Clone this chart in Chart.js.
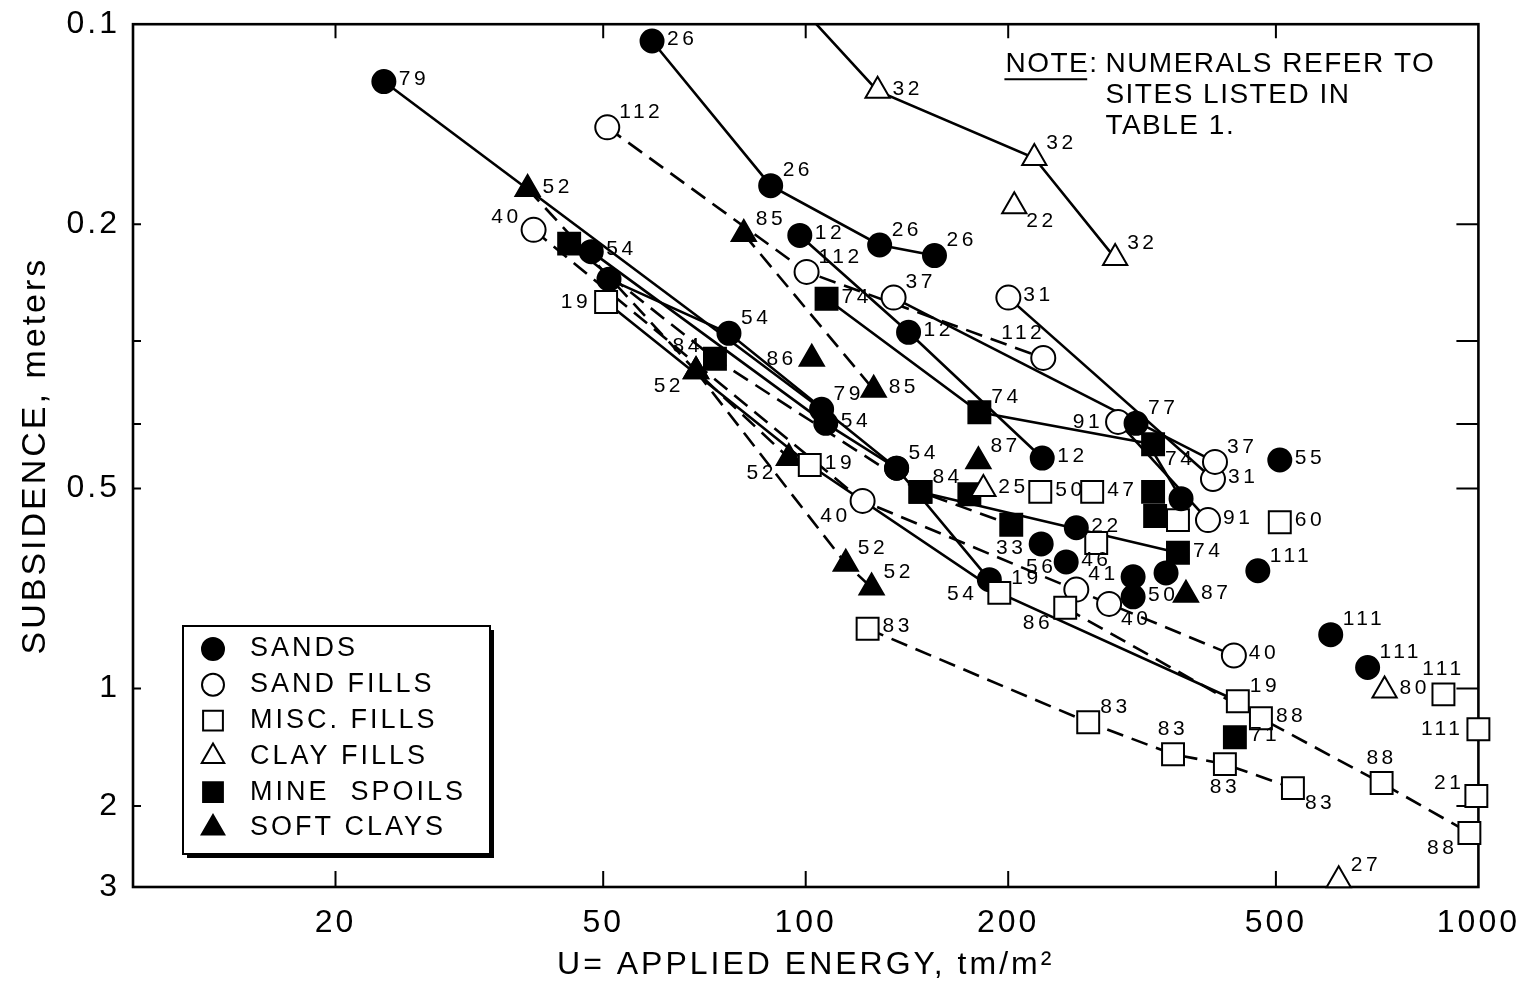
<!DOCTYPE html>
<html lang="en">

<head>
    <title>Subsidence vs Applied Energy</title>
    <script src="https://cdn.jsdelivr.net/npm/chart.js"></script>
    <style>
        body {
            margin: 0;
            background: #fff;
        }

        #chart {
            display: block;
        }
    </style>
</head>

<body>
    <canvas id="chart" width="1529" height="990"></canvas>
    <script>
        // axis ticks
        const energyTicks = [20, 50, 100, 200, 500, 1000];
        const subsTicks = [0.1, 0.2, 0.3, 0.4, 0.5, 1, 2, 3];
        const subsTickLabels = ['0.1', '0.2', '', '', '0.5', '1', '2', '3'];

        // connected tests: [applied energy tm/m2, subsidence m], site number at each point
        const site79 = [[23.6, 0.122], [105.6, 0.380]];
        const site79Sites = ['79', '79'];
        const site26 = [[59.1, 0.106], [88.7, 0.175], [128.8, 0.215], [155.4, 0.223]];
        const site26Sites = ['26', '26', '26', '26'];
        const site32 = [[99, 0.095], [127.9, 0.126], [218.7, 0.159], [288.4, 0.225]];
        const site32Sites = ['', '32', '32', '32'];
        const site112 = [[50.7, 0.143], [100.3, 0.236], [225.5, 0.318]];
        const site112Sites = ['112', '112', '112'];
        const site12 = [[98, 0.208], [142.2, 0.291], [224.7, 0.45]];
        const site12Sites = ['12', '12', '12'];
        const site85 = [[80.9, 0.207], [126.2, 0.355]];
        const site85Sites = ['85', '85'];
        const site74 = [[107.4, 0.259], [181.2, 0.384], [328.4, 0.429]];
        const site74Sites = ['74', '74', '74'];
        const site84 = [[44.5, 0.214], [73.3, 0.319], [148.1, 0.506], [202.1, 0.567]];
        const site84Sites = ['', '84', '84', '33'];
        const site74b = [[148.1, 0.506], [357.6, 0.625]];
        const site74bSites = ['', '74'];
        const site37 = [[135.1, 0.258], [405.9, 0.456]];
        const site37Sites = ['37', '37'];
        const site31 = [[200.1, 0.258], [403.1, 0.484]];
        const site31Sites = ['31', '31'];
        const site77 = [[309.8, 0.399], [361.4, 0.518]];
        const site77Sites = ['77', ''];
        const site91 = [[291.3, 0.397], [396.3, 0.558]];
        const site91Sites = ['91', '91'];
        const site40 = [[39.4, 0.204], [121.5, 0.522], [282.5, 0.746], [433, 0.892]];
        const site40Sites = ['40', '40', '40', '40'];
        const site19 = [[50.5, 0.262], [101.4, 0.461], [194, 0.718], [438.9, 1.079]];
        const site19Sites = ['19', '19', '19', '19'];
        const site88 = [[243.1, 0.756], [475, 1.193], [718, 1.747], [969.6, 2.289]];
        const site88Sites = ['86', '88', '88', '88'];
        const site83 = [[123.6, 0.813], [263, 1.221], [351.6, 1.474], [419.9, 1.563], [530, 1.8]];
        const site83Sites = ['83', '83', '83', '83', '83'];
        const site52 = [[38.6, 0.177], [68.7, 0.333], [94.4, 0.45]];
        const site52Sites = ['52', '52', '52'];
        const site52b = [[68.7, 0.333], [114.7, 0.649], [125.3, 0.705]];
        const site52bSites = ['', '52', '52'];
        const site54 = [[48, 0.22], [107.1, 0.399], [136.5, 0.466], [187.5, 0.686]];
        const site54Sites = ['54', '54', '54', '54'];
        const site54b = [[51, 0.242], [76.9, 0.292], [136.5, 0.466]];
        const site54bSites = ['', '54', ''];

        // single tests, by material
        const sandsOther = [[506.7, 0.453], [252.5, 0.573], [223.9, 0.606], [243.9, 0.645], [306.7, 0.679],
            [306.7, 0.728], [343.3, 0.67], [470, 0.665], [603.2, 0.83], [684.4, 0.93]];
        const sandsOtherSites = ['55', '22', '56', '46', '', '50', '', '111', '111', '111'];
        const sandFillsOther = [[252.5, 0.71]];
        const sandFillsOtherSites = ['41'];
        const miscFillsOther = [[223.2, 0.506], [266.6, 0.506], [357.6, 0.558], [506.7, 0.562], [270.3, 0.604],
            [887.2, 1.036], [1000, 1.272], [993, 1.886]];
        const miscFillsOtherSites = ['50', '47', '', '60', '', '111', '111', '21'];
        const clayFillsOther = [[204.2, 0.188], [183.7, 0.501], [725.3, 1.012], [619.9, 2.9]];
        const clayFillsOtherSites = ['22', '25', '80', '27'];
        const mineSpoilsOther = [[175.1, 0.51], [328.4, 0.506], [330.7, 0.55], [434.5, 1.334]];
        const mineSpoilsOtherSites = ['', '', '', '71'];
        const softClaysOther = [[102.1, 0.319], [180.6, 0.455], [367.5, 0.723]];
        const softClaysOtherSites = ['86', '87', '87'];

        const legendNames = ['SANDS', 'SAND FILLS', 'MISC. FILLS', 'CLAY FILLS', 'MINE  SPOILS', 'SOFT CLAYS'];
        const legendKinds = ['sands', 'sandFills', 'miscFills', 'clayFills', 'mineSpoils', 'softClays'];

        const markerStyle = {
            sands: { pointStyle: 'circle', radius: 11.5, fill: '#000' },
            sandFills: { pointStyle: 'circle', radius: 12, fill: '#fff' },
            miscFills: { pointStyle: 'rect', radius: 15.5, fill: '#fff' },
            clayFills: { pointStyle: 'triangle', radius: 14, fill: '#fff' },
            mineSpoils: { pointStyle: 'rect', radius: 15.5, fill: '#000' },
            softClays: { pointStyle: 'triangle', radius: 14, fill: '#000' }
        };

        // label side: [textAlign, dx, dy]
        const labelOffsets = {
            r: ['left', 15, -2], ru: ['left', 12, -15], rd: ['left', 12, 15],
            l: ['right', -15, 0], lu: ['right', -12, -13], ld: ['right', -12, 15],
            u: ['center', 0, -25], d: ['center', 0, 23], ul: ['right', 2, -25]
        };

        const series = [
            { pts: site79, sites: site79Sites, kind: 'sands', dashed: false, pos: ['r', 'ru'] },
            { pts: site26, sites: site26Sites, kind: 'sands', dashed: false, pos: ['r', 'ru', 'ru', 'ru'] },
            { pts: site32, sites: site32Sites, kind: 'clayFills', dashed: false, pos: ['r', 'r', 'ru', 'ru'], clip: 0 },
            { pts: site112, sites: site112Sites, kind: 'sandFills', dashed: true, pos: ['ru', 'ru', 'ul'] },
            { pts: site12, sites: site12Sites, kind: 'sands', dashed: false, pos: ['r', 'r', 'r'] },
            { pts: site85, sites: site85Sites, kind: 'softClays', dashed: true, pos: ['ru', 'r'] },
            { pts: site74, sites: site74Sites, kind: 'mineSpoils', dashed: false, pos: ['r', 'ru', 'rd'] },
            { pts: site84, sites: site84Sites, kind: 'mineSpoils', dashed: true, pos: ['r', 'lu', 'ru', 'd'] },
            { pts: site74b, sites: site74bSites, kind: 'mineSpoils', dashed: false, pos: ['r', 'r'] },
            { pts: site37, sites: site37Sites, kind: 'sandFills', dashed: false, pos: ['ru', 'ru'] },
            { pts: site31, sites: site31Sites, kind: 'sandFills', dashed: false, pos: ['r', 'r'] },
            { pts: site77, sites: site77Sites, kind: 'sands', dashed: false, pos: ['ru', 'r'] },
            { pts: site91, sites: site91Sites, kind: 'sandFills', dashed: false, pos: ['l', 'r'] },
            { pts: site40, sites: site40Sites, kind: 'sandFills', dashed: true, pos: ['lu', 'ld', 'rd', 'r'] },
            { pts: site19, sites: site19Sites, kind: 'miscFills', dashed: false, pos: ['l', 'r', 'ru', 'ru'] },
            { pts: site88, sites: site88Sites, kind: 'miscFills', dashed: true, pos: ['ld', 'r', 'u', 'ld'] },
            { pts: site83, sites: site83Sites, kind: 'miscFills', dashed: true, pos: ['r', 'ru', 'u', 'd', 'rd'] },
            { pts: site52, sites: site52Sites, kind: 'softClays', dashed: true, pos: ['r', 'ld', 'ld'] },
            { pts: site52b, sites: site52bSites, kind: 'softClays', dashed: true, pos: ['r', 'ru', 'ru'] },
            { pts: site54, sites: site54Sites, kind: 'sands', dashed: false, pos: ['r', 'r', 'ru', 'ld'] },
            { pts: site54b, sites: site54bSites, kind: 'sands', dashed: false, pos: ['r', 'ru', 'r'] }
        ];

        const singles = [
            { pts: sandsOther, sites: sandsOtherSites, kind: 'sands', pos: ['r', 'r', 'd', 'r', 'r', 'r', 'r', 'ru', 'ru', 'ru'] },
            { pts: sandFillsOther, sites: sandFillsOtherSites, kind: 'sandFills', pos: ['ru'] },
            { pts: miscFillsOther, sites: miscFillsOtherSites, kind: 'miscFills', pos: ['r', 'r', 'r', 'r', 'r', 'u', 'l', 'lu'] },
            { pts: clayFillsOther, sites: clayFillsOtherSites, kind: 'clayFills', pos: ['rd', 'r', 'r', 'ru'] },
            { pts: mineSpoilsOther, sites: mineSpoilsOtherSites, kind: 'mineSpoils', pos: ['r', 'r', 'r', 'r'] },
            { pts: softClaysOther, sites: softClaysOtherSites, kind: 'softClays', pos: ['l', 'ru', 'r'] }
        ];

        // subsidence axis: log from 0.1 to 1 m, drawn compressed below 1 m as in the original figure
        function subsToAxis(v) {
            if (v <= 1) return Math.log10(v);
            if (v <= 2) return Math.log10(v) / Math.log10(2) * 0.177;
            return 0.177 + Math.log10(v / 2) / Math.log10(1.5) * 0.122;
        }

        const toXY = pts => pts.map(([e, s]) => ({ x: e, y: subsToAxis(s) }));

        const lineSets = series.map(s => ({
            data: toXY(s.pts),
            showLine: true,
            borderColor: '#000',
            borderWidth: 2.6,
            borderDash: s.dashed ? [17, 9] : [],
            pointRadius: 0,
            order: 2,
            clip: s.clip ?? false
        }));

        const markerSet = s => ({
            data: toXY(s.pts),
            showLine: false,
            pointStyle: markerStyle[s.kind].pointStyle,
            pointRadius: markerStyle[s.kind].radius,
            pointBackgroundColor: markerStyle[s.kind].fill,
            pointBorderColor: '#000',
            pointBorderWidth: 2,
            sites: s.sites,
            labelPos: s.pos,
            order: 1,
            clip: s.clip ?? false
        });

        const datasets = [...lineSets, ...series.map(markerSet), ...singles.map(markerSet)];

        const FONT = '"Liberation Sans", Arial, sans-serif';
        Chart.defaults.font.family = FONT;
        Chart.defaults.color = '#000';

        const spacing = {
            id: 'spacing',
            beforeUpdate(chart) { chart.ctx.letterSpacing = '3px'; },
            beforeDraw(chart) { chart.ctx.letterSpacing = '3px'; }
        };

        const frame = {
            id: 'frame',
            beforeDatasetsDraw(chart) {
                const { ctx, chartArea: a, scales: { x, y } } = chart;
                ctx.save();
                ctx.strokeStyle = '#000';
                ctx.lineWidth = 2.6;
                ctx.strokeRect(a.left, a.top, a.right - a.left, a.bottom - a.top);
                ctx.lineWidth = 2;
                ctx.beginPath();
                energyTicks.slice(0, -1).forEach(v => {
                    const px = x.getPixelForValue(v);
                    ctx.moveTo(px, a.bottom); ctx.lineTo(px, a.bottom - 16);
                    ctx.moveTo(px, a.top); ctx.lineTo(px, a.top + 14);
                });
                subsTicks.slice(1, -1).forEach(v => {
                    const py = y.getPixelForValue(subsToAxis(v));
                    ctx.moveTo(a.left, py); ctx.lineTo(a.left + 8, py);
                    ctx.moveTo(a.right, py); ctx.lineTo(a.right - 22, py);
                });
                ctx.stroke();
                ctx.restore();
            }
        };

        const siteLabels = {
            id: 'siteLabels',
            afterDatasetsDraw(chart) {
                const ctx = chart.ctx;
                ctx.save();
                ctx.font = '21px ' + FONT;
                ctx.letterSpacing = '3.5px';
                ctx.fillStyle = '#000';
                ctx.textBaseline = 'middle';
                chart.data.datasets.forEach((ds, i) => {
                    if (!ds.sites) return;
                    chart.getDatasetMeta(i).data.forEach((pt, j) => {
                        const txt = ds.sites[j];
                        if (!txt) return;
                        const [align, dx, dy] = labelOffsets[ds.labelPos[j]];
                        ctx.textAlign = align;
                        ctx.fillText(txt, pt.x + dx, pt.y + dy);
                    });
                });
                ctx.restore();
            }
        };

        const legendBox = {
            id: 'legendBox',
            afterDatasetsDraw(chart) {
                const { ctx, chartArea: a } = chart;
                const left = a.left + 50, top = a.bottom - 261, w = 307, h = 228;
                ctx.save();
                ctx.fillStyle = '#000';
                ctx.fillRect(left + 4, top + 4, w, h);
                ctx.fillStyle = '#fff';
                ctx.fillRect(left, top, w, h);
                ctx.strokeStyle = '#000';
                ctx.lineWidth = 2;
                ctx.strokeRect(left, top, w, h);
                ctx.font = '27px ' + FONT;
                ctx.letterSpacing = '3px';
                ctx.textBaseline = 'middle';
                ctx.textAlign = 'left';
                legendNames.forEach((name, i) => {
                    const cy = top + 23 + i * 35.8;
                    const st = markerStyle[legendKinds[i]];
                    ctx.fillStyle = st.fill;
                    ctx.lineWidth = 2;
                    Chart.helpers.drawPoint(ctx, {
                        pointStyle: st.pointStyle,
                        radius: st.pointStyle === 'circle' ? 11 : (st.pointStyle === 'rect' ? 14 : 13),
                        borderWidth: 2,
                        rotation: 0
                    }, left + 30, cy);
                    ctx.fillStyle = '#000';
                    ctx.fillText(name, left + 67, cy);
                });
                ctx.restore();
            }
        };

        const note = {
            id: 'note',
            afterDraw(chart) {
                const { ctx, chartArea: a } = chart;
                const x0 = a.right - 473, y0 = a.top + 40;
                ctx.save();
                ctx.font = '28px ' + FONT;
                ctx.letterSpacing = '1.5px';
                ctx.fillStyle = '#000';
                ctx.textBaseline = 'middle';
                ctx.textAlign = 'left';
                ctx.fillText('NOTE', x0, y0);
                const w = ctx.measureText('NOTE').width;
                ctx.fillText(':', x0 + w, y0);
                ctx.fillText('NUMERALS REFER TO', x0 + 100, y0);
                ctx.fillText('SITES LISTED IN', x0 + 100, y0 + 31);
                ctx.fillText('TABLE 1.', x0 + 100, y0 + 62);
                ctx.lineWidth = 2;
                ctx.beginPath();
                ctx.moveTo(x0 - 1, y0 + 15);
                ctx.lineTo(x0 + w - 2, y0 + 15);
                ctx.stroke();
                ctx.restore();
            }
        };

        new Chart(document.getElementById('chart'), {
            type: 'scatter',
            data: { datasets },
            options: {
                responsive: false,
                animation: false,
                events: [],
                layout: { padding: { top: 22, right: 48, left: 0, bottom: 0 } },
                plugins: { legend: { display: false }, tooltip: { enabled: false } },
                scales: {
                    x: {
                        type: 'logarithmic',
                        min: 10,
                        max: 1000,
                        grid: { display: false },
                        border: { display: false },
                        afterBuildTicks: s => { s.ticks = energyTicks.map(v => ({ value: v })); },
                        afterFit: s => { s.height = 103; },
                        ticks: {
                            autoSkip: false,
                            maxRotation: 0,
                            padding: 9,
                            font: { size: 32 },
                            callback: v => String(v)
                        },
                        title: {
                            display: true,
                            text: 'U= APPLIED ENERGY, tm/m²',
                            font: { size: 32 },
                            padding: { top: 0, bottom: 6 }
                        }
                    },
                    y: {
                        type: 'linear',
                        reverse: true,
                        min: subsToAxis(0.1),
                        max: subsToAxis(3),
                        grid: { display: false },
                        border: { display: false },
                        afterBuildTicks: s => { s.ticks = subsTicks.map(v => ({ value: subsToAxis(v) })); },
                        afterFit: s => { s.width = 133; },
                        ticks: {
                            autoSkip: false,
                            padding: 5,
                            font: { size: 32 },
                            callback: (v, i) => subsTickLabels[i]
                        },
                        title: {
                            display: true,
                            text: 'SUBSIDENCE, meters',
                            font: { size: 34 },
                            padding: { top: 15, bottom: 0 }
                        }
                    }
                }
            },
            plugins: [spacing, frame, siteLabels, legendBox, note]
        });
    </script>
</body>

</html>
